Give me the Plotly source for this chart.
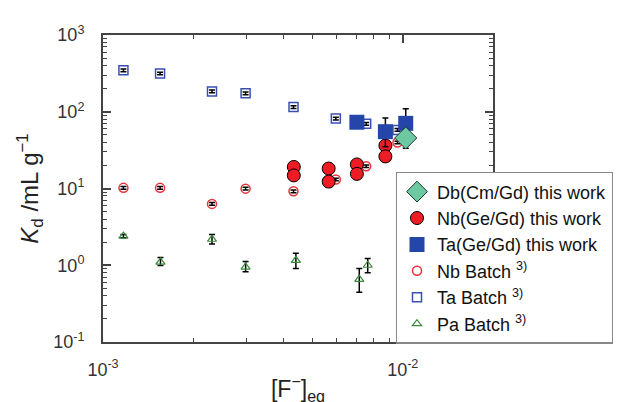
import plotly.graph_objects as go

# ---- data ----
db_x = [1.023e-2]
db_y = [45.5]
db_err_plus = [13.0]
db_err_minus = [12.0]

nb_x = [4.33e-3, 4.33e-3, 5.66e-3, 5.66e-3, 7.03e-3, 7.03e-3, 8.75e-3, 8.75e-3]
nb_y = [19.1, 14.8, 18.2, 12.3, 20.6, 15.5, 36.3, 26.2]

ta_x = [7.03e-3, 8.75e-3, 1.023e-2]
ta_y = [73.0, 55.0, 70.6]
ta_err_plus = [0.0, 27.6, 39.0]
ta_err_minus = [0.0, 20.0, 25.0]

batch_x = [1.17e-3, 1.55e-3, 2.31e-3, 2.99e-3, 4.32e-3, 5.98e-3, 7.55e-3, 9.6e-3]
nb_batch_y = [10.2, 10.2, 6.3, 9.96, 9.2, 13.1, 19.5, 39.8]
ta_batch_y = [347, 315, 184, 174, 115, 81.5, 69.7, 58.0]

pa_x = [1.17e-3, 1.555e-3, 2.31e-3, 2.99e-3, 4.4e-3, 7.16e-3, 7.64e-3]
pa_y = [2.39, 1.10, 2.18, 0.946, 1.16, 0.655, 1.0]
pa_err_plus = [0.12, 0.165, 0.33, 0.17, 0.275, 0.25, 0.225]
pa_err_minus = [0.10, 0.107, 0.29, 0.125, 0.25, 0.21, 0.2]

x_tickvals = [1e-3, 1e-2]
x_ticktext = ["10<sup>-3</sup>", "10<sup>-2</sup>"]
y_tickvals = [0.1, 1, 10, 100, 1000]
y_ticktext = ["10<sup>-1</sup>", "10<sup>0</sup>", "10<sup>1</sup>", "10<sup>2</sup>", "10<sup>3</sup>"]

FONT = "Arial, Liberation Sans, sans-serif"
ERR = dict(color="black", thickness=1.5, width=3)

fig = go.Figure()

fig.add_trace(go.Scatter(
    x=pa_x, y=pa_y, mode="markers", name="Pa Batch <sup>3)</sup>", legendrank=6,
    marker=dict(symbol="triangle-up-open", size=8, color="#3a8a3a", line=dict(width=1.2)),
    error_y=dict(type="data", symmetric=False, array=pa_err_plus, arrayminus=pa_err_minus, **ERR)))

fig.add_trace(go.Scatter(
    x=batch_x, y=ta_batch_y, mode="markers", name="Ta Batch <sup>3)</sup>", legendrank=5,
    marker=dict(symbol="square-open", size=9, color="#3a4fb5", line=dict(width=1.5)),
    error_y=dict(type="percent", value=4, **ERR)))

fig.add_trace(go.Scatter(
    x=batch_x, y=nb_batch_y, mode="markers", name="Nb Batch <sup>3)</sup>", legendrank=4,
    marker=dict(symbol="circle-open", size=9, color="#e8303a", line=dict(width=1.5)),
    error_y=dict(type="percent", value=4, **ERR)))

fig.add_trace(go.Scatter(
    x=nb_x, y=nb_y, mode="markers", name="Nb(Ge/Gd) this work", legendrank=2,
    marker=dict(symbol="circle", size=13, color="#ee1c25", line=dict(color="black", width=1))))

fig.add_trace(go.Scatter(
    x=ta_x, y=ta_y, mode="markers", name="Ta(Ge/Gd) this work", legendrank=3,
    marker=dict(symbol="square", size=15, color="#2346a8", line=dict(width=0)),
    error_y=dict(type="data", symmetric=False, array=ta_err_plus, arrayminus=ta_err_minus, **ERR)))

fig.add_trace(go.Scatter(
    x=db_x, y=db_y, mode="markers", name="Db(Cm/Gd) this work", legendrank=1,
    marker=dict(symbol="diamond", size=17, color="#6dc9a2", line=dict(color="#1e3a30", width=1)),
    error_y=dict(type="data", symmetric=False, array=db_err_plus, arrayminus=db_err_minus, **ERR)))

axis_common = dict(
    type="log", showline=True, linecolor="#444", linewidth=2, mirror="ticks",
    ticks="inside", ticklen=8, tickwidth=1.5, tickcolor="#444",
    showgrid=False, zeroline=False,
    tickfont=dict(family=FONT, size=18, color="#333"),
    minor=dict(ticks="inside", ticklen=4, tickwidth=1, tickcolor="#444", dtick="D1", showgrid=False),
)

fig.update_xaxes(
    range=[-3, -1.699], tickmode="array", tickvals=x_tickvals, ticktext=x_ticktext,
    title=dict(text="[F<sup>−</sup>]<sub>eq</sub>", font=dict(family=FONT, size=23, color="#222"), standoff=2),
    ticklabelstandoff=10, **axis_common)
fig.update_yaxes(
    range=[-1, 3], tickmode="array", tickvals=y_tickvals, ticktext=y_ticktext,
    title=dict(text="<i>K</i><sub>d</sub> /mL g<sup>−1</sup>", font=dict(family=FONT, size=24, color="#222"), standoff=8),
    ticklabelstandoff=13, **axis_common)

fig.update_layout(
    width=621, height=402,
    margin=dict(l=95, r=136, t=27, b=50),
    paper_bgcolor="white", plot_bgcolor="white",
    font=dict(family=FONT, color="#222"),
    legend=dict(
        x=0.75, y=0.554, xanchor="left", yanchor="top",
        bgcolor="white", bordercolor="#888", borderwidth=1.5,
        font=dict(family=FONT, size=18, color="#111"),
        tracegroupgap=0, itemsizing="trace",
    ),
    showlegend=True,
)

fig.write_html("out.html")
